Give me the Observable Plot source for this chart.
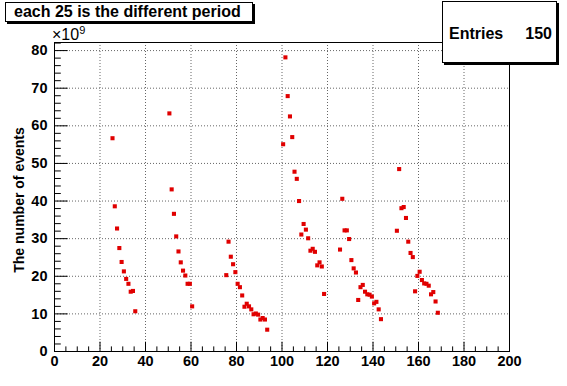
<!DOCTYPE html>
<html><head><meta charset="utf-8">
<script src="https://cdn.jsdelivr.net/npm/d3@7"></script>
<script src="https://cdn.jsdelivr.net/npm/@observablehq/plot@0.6"></script>
<style>
html,body{margin:0;padding:0;background:#fff;}
#wrap{position:relative;width:567px;height:386px;overflow:hidden;font-family:"Liberation Sans",Arial,sans-serif;}
#wrap svg{position:absolute;left:0;top:0;}
.box{position:absolute;background:#fff;border:1px solid #000;box-shadow:2px 2px 0 #000;box-sizing:border-box;font-weight:bold;color:#000;}
#title{left:5px;top:2px;width:248px;height:20px;font-size:16px;line-height:18px;padding-left:8px;white-space:nowrap;}
#stats{left:442px;top:1px;width:115px;height:62px;font-size:16px;}
#stats .k{position:absolute;left:6px;top:23px;}
#stats .v{position:absolute;right:4px;top:23px;}
#mult{position:absolute;left:52px;top:27px;font-size:16px;line-height:16px;color:#000;white-space:nowrap;}
#mult sup{font-size:11px;position:relative;top:-2px;vertical-align:top;line-height:11px;}
</style></head>
<body>
<div id="wrap">
  <div class="box" id="title">each 25 is the different period</div>
  <div class="box" id="stats"><span class="k">Entries</span><span class="v">150</span></div>
  <div id="mult">&times;10<sup>9</sup></div>
</div>
<script>
// bin centers (x) and number of events (units of 1e9)
const period1X = [25.5,26.5,27.5,28.5,29.5,30.5,31.5,32.5,33.5,34.5,35.5];
const period1Y = [56.7,38.6,32.7,27.5,23.8,21.3,19.3,18.0,15.9,16.1,10.7];
const period2X = [50.5,51.5,52.5,53.5,54.5,55.5,56.5,57.5,58.5,59.5,60.5];
const period2Y = [63.3,43.1,36.6,30.6,26.6,23.7,21.5,20.2,18.0,18.0,12.0];
const period3X = [75.5,76.5,77.5,78.5,79.5,80.5,81.5,82.5,83.5,84.5,85.5,86.5,87.5,88.5,89.5,90.5,91.5,92.5,93.5];
const period3Y = [20.3,29.2,25.2,23.2,21.1,18.0,17.1,14.9,11.9,12.7,12.0,11.2,9.9,10.1,9.8,8.5,8.9,8.5,5.8];
const period4X = [100.5,101.5,102.5,103.5,104.5,105.5,106.5,107.5,108.5,109.5,110.5,111.5,112.5,113.5,114.5,115.5,116.5,117.5,118.5];
const period4Y = [55.1,78.2,67.9,62.5,57.0,47.8,45.9,40.0,31.1,33.9,32.4,30.1,26.8,27.3,26.5,22.9,23.7,22.6,15.3];
const period5X = [125.5,126.5,127.5,128.5,129.5,130.5,131.5,132.5,133.5,134.5,135.5,136.5,137.5,138.5,139.5,140.5,141.5,142.5,143.5];
const period5Y = [27.1,40.6,32.2,32.2,29.9,24.3,22.1,21.0,13.7,17.1,17.7,15.9,15.2,15.1,14.6,12.8,13.2,11.2,8.6];
const period6X = [150.5,151.5,152.5,153.5,154.5,155.5,156.5,157.5,158.5,159.5,160.5,161.5,162.5,163.5,164.5,165.5,166.5,167.5,168.5];
const period6Y = [32.1,48.5,38.1,38.4,35.5,29.2,26.2,25.1,16.0,20.1,21.2,19.0,18.1,18.0,17.5,15.2,15.8,13.3,10.3];

const xMajor = [0,20,40,60,80,100,120,140,160,180,200];
const xMinor = [5,10,15,25,30,35,45,50,55,65,70,75,85,90,95,105,110,115,125,130,135,145,150,155,165,170,175,185,190,195];
const yMajor = [0,10,20,30,40,50,60,70,80];
const yMinor = [2,4,6,8,12,14,16,18,22,24,26,28,32,34,36,38,42,44,46,48,52,54,56,58,62,64,66,68,72,74,76,78,82];
const xGrid = [20,40,60,80,100,120,140,160,180];
const yGrid = [10,20,30,40,50,60,70,80];
const xDomain = [0,200];
const yDomain = [0,82.15];

const xs = [].concat(period1X,period2X,period3X,period4X,period5X,period6X);
const ys = [].concat(period1Y,period2Y,period3Y,period4Y,period5Y,period6Y);
const points = xs.map((x,i)=>({x, y: ys[i]}));

const W=567, H=386, mL=54, mR=58, mT=42, mB=35;
const plotH = H-mT-mB, plotW = W-mL-mR;
const font = "Liberation Sans, Arial, Helvetica, sans-serif";

const chart = Plot.plot({
  width: W, height: H,
  marginLeft: mL, marginRight: mR, marginTop: mT, marginBottom: mB,
  style: {fontFamily: font, background: "white", overflow: "visible", fontWeight: "bold", color: "black"},
  x: {domain: xDomain, axis: null},
  y: {domain: yDomain, axis: null},
  marks: [
    Plot.ruleX(xGrid, {stroke: "#666", strokeDasharray: "1,2"}),
    Plot.ruleY(yGrid, {stroke: "#666", strokeDasharray: "1,2"}),
    Plot.tickX(xMinor, {stroke: "black", insetTop: plotH - 4.6}),
    Plot.tickX(xMajor, {stroke: "black", insetTop: plotH - 9.3}),
    Plot.tickY(yMinor.filter(v => v <= yDomain[1]), {stroke: "black", insetRight: plotW - 6.8}),
    Plot.tickY(yMajor, {stroke: "black", insetRight: plotW - 13.7}),
    Plot.frame({stroke: "black"}),
    Plot.dot(points, {x: "x", y: "y", symbol: "square", r: 2.3, fill: "#e00000", stroke: "none"}),
    Plot.axisX({ticks: xMajor, tickSize: 0, tickPadding: 4, label: null, fontSize: 14.5, fontWeight: "bold", tickFormat: d => String(d)}),
    Plot.axisY({ticks: yMajor, tickSize: 0, tickPadding: 7, label: null, fontSize: 14.5, fontWeight: "bold", tickFormat: d => String(d)}),
    Plot.text(["The number of events"], {frameAnchor: "left", rotate: -90, dx: -35, dy: 3, textAnchor: "middle", fontSize: 14, fontWeight: "bold"})
  ]
});
document.getElementById("wrap").prepend(chart);
</script>
</body></html>
